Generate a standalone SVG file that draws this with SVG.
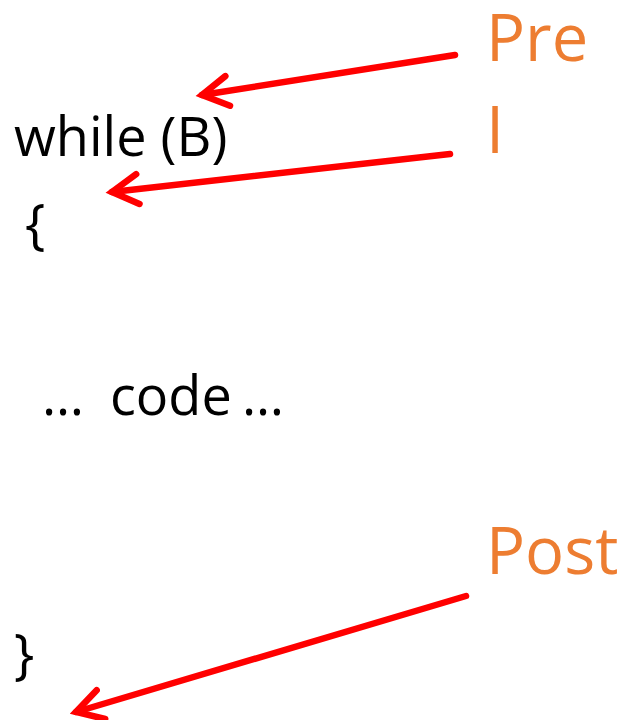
<svg xmlns="http://www.w3.org/2000/svg" width="623" height="720" viewBox="0 0 623 720">
  <style>
    .code { font-family: "Open Sans", "Liberation Sans", sans-serif; font-size: 54px; fill: #000000; }
    .label { font-family: "Open Sans", "Liberation Sans", sans-serif; font-size: 65px; fill: #ED7D31; }
    .arrow { stroke: #FF0000; stroke-width: 6.5; fill: none; stroke-linecap: round; marker-end: url(#head); }
  </style>
  <defs>
    <marker id="head" markerUnits="userSpaceOnUse" orient="auto" refX="0" refY="0"
            viewBox="-36 -20 42 40" markerWidth="42" markerHeight="40" overflow="visible">
      <path d="M -26,-15 L 0,0 L -26,15" fill="none" stroke="#FF0000" stroke-width="6.5"
            stroke-linecap="round" stroke-linejoin="miter"/>
    </marker>
  </defs>

  <rect width="623" height="720" fill="#FFFFFF"/>

  <!-- loop source text -->
  <g id="code">
    <text class="code" x="14" y="156">while (B)</text>
    <text class="code" x="25" y="243">{</text>
    <text class="code" y="415"><tspan x="42">…</tspan><tspan x="110">code</tspan><tspan x="242">…</tspan></text>
    <text class="code" x="14" y="673">}</text>
  </g>

  <!-- assertion labels -->
  <g id="pre"><text class="label" x="486" y="61">Pre</text></g>
  <g id="inv"><text class="label" x="486" y="153">I</text></g>
  <g id="post"><text class="label" x="486" y="574">Post</text></g>

  <!-- connectors -->
  <g id="connectors">
    <line class="arrow" x1="455" y1="55" x2="202" y2="95"/>
    <line class="arrow" x1="450" y1="154" x2="112" y2="192"/>
    <line class="arrow" x1="466" y1="596" x2="76" y2="712"/>
  </g>
</svg>
